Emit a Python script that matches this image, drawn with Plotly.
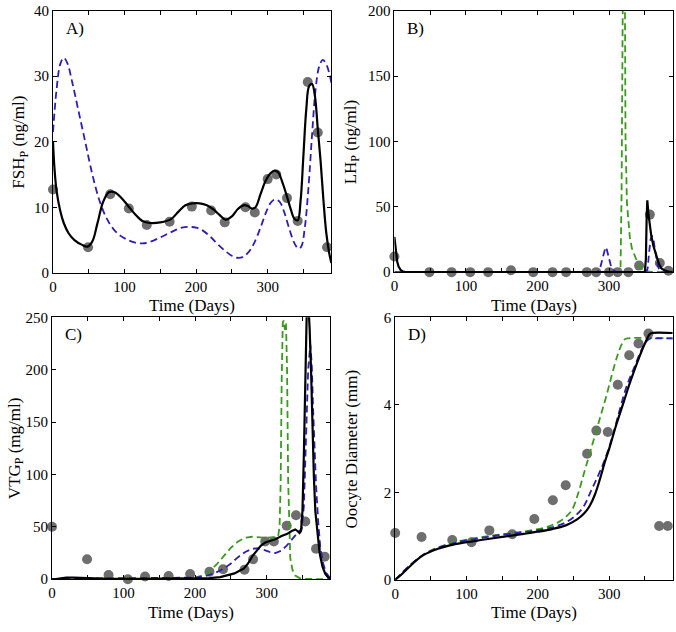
import plotly.graph_objects as go

# ---- A) FSH ----
fsh_dot_t = [0, 49, 80, 106, 131, 163, 194, 221, 240, 269, 282, 300, 312, 327, 342, 356, 370, 383]
fsh_dot = [12.7, 3.9, 12.0, 9.8, 7.3, 7.8, 10.1, 9.5, 7.7, 10.0, 9.2, 14.3, 15.0, 11.4, 7.9, 29.1, 21.4, 3.9]
fsh_black_t = [0, 2, 5, 10, 15, 22, 30, 40, 48, 55, 62, 70, 78, 86, 95, 105, 115, 125, 135, 150, 165, 175,
               185, 195, 205, 215, 225, 233, 241, 250, 258, 266, 272, 278, 283, 290, 297, 304, 310, 315, 320,
               326, 332, 337, 342, 346, 350, 354, 358, 362, 366, 370, 374, 378, 382, 386, 389]
fsh_black = [20, 16, 12.5, 9.5, 7.6, 6.0, 5.0, 4.3, 4.0, 4.8, 7.5, 10.8, 12.3, 12.3, 11.5, 10.2, 8.9, 7.9, 7.6,
             7.7, 8.2, 9.3, 10.3, 10.6, 10.6, 10.3, 9.6, 8.8, 8.1, 8.6, 9.7, 10.3, 10.2, 9.8, 10.0, 12.0, 14.0,
             15.2, 15.6, 15.3, 14.0, 12.0, 9.8, 8.3, 8.0, 11, 18, 25, 28.5, 28.8, 27, 22, 17, 11, 6, 3, 1.5]
fsh_blue_t = [0, 5, 10, 15, 20, 27, 35, 45, 55, 65, 75, 85, 95, 105, 115, 125, 135, 150, 165, 180, 190, 200,
              210, 220, 230, 240, 250, 258, 265, 272, 280, 290, 298, 305, 311, 317, 323, 330, 337, 343, 347,
              352, 357, 362, 367, 372, 377, 382, 386, 389]
fsh_blue = [21.5, 28, 31.8, 32.8, 32, 29, 25, 20, 15, 11, 8.3, 6.6, 5.6, 5.0, 4.6, 4.5, 4.7, 5.4, 6.2, 6.9, 7.0,
            6.9, 6.4, 5.5, 4.4, 3.4, 2.6, 2.3, 2.4, 3.0, 4.3, 6.9, 9.3, 10.8, 11.2, 10.8, 9.3, 6.8, 4.6, 3.7,
            4.0, 7.0, 13, 21, 28, 31.5, 32.5, 31.8, 30.5, 29]

# ---- B) LH ----
lh_dot_t = [0, 49, 80, 106, 131, 163, 194, 221, 240, 269, 282, 300, 312, 327, 342, 357, 371, 383]
lh_dot = [12, 0, 0, 0, 0, 1.5, 0, 0, 0, 0, 0, 0, 0, 0, 5, 44, 7, 1]
lh_black_t = [0, 1, 2, 4, 6, 9, 12, 16, 350, 351.5, 352.5, 353.5, 355, 357, 359, 362, 366, 370, 373, 378, 383, 389]
lh_black = [27, 21, 15, 8, 4, 1.5, 0.5, 0, 0, 10, 40, 55, 45, 35, 28, 20, 12, 6, 3, 1.2, 0.4, 0]
lh_blue_t = [0, 283, 287, 290, 293, 295, 297, 300, 303, 307, 310, 352, 354, 356, 358, 360, 362, 364, 366,
             368, 370, 373, 389]
lh_blue = [0, 0, 2, 8, 16, 19, 17, 10, 4, 1, 0, 0, 3, 15, 25, 28, 25, 18, 10, 5, 2, 0, 0]
lh_green_t = [0, 316, 317.5, 319, 320.5, 322, 323, 325, 327, 329, 332, 336, 340, 345, 350, 356, 389]
lh_green = [0, 0, 60, 220, 320, 240, 104, 53, 36, 27, 18, 12, 7, 3, 1.5, 0.3, 0]

# ---- C) VTG ----
vtg_dot_t = [0, 49, 79, 106, 130, 163, 193, 220, 239, 269, 281, 298, 310, 328, 341, 354, 369, 381]
vtg_dot = [50, 19, 4, 0, 2.5, 3, 5, 7, 9.5, 9, 19, 36, 36, 51, 61, 55, 29, 21.5]
vtg_black_t = [0, 5, 12, 20, 30, 40, 50, 60, 80, 120, 160, 200, 220, 235, 245, 255, 262, 268, 274, 280, 286,
               292, 298, 305, 312, 320, 328, 335, 340, 343, 346, 348, 350, 352, 354, 356, 358, 360, 362, 364,
               366, 368, 371, 374, 378, 382, 386, 389]
vtg_black = [-0.5, 0, 1, 1.5, 1.5, 1.2, 0.8, 0.5, 0.3, 0.2, 0.3, 0.6, 1, 2, 3.5, 5.5, 8, 10, 15, 22, 27, 32,
             35, 36.5, 38, 41, 43, 46, 47.5, 46, 44, 46, 65, 120, 200, 255, 265, 240, 200, 140, 97, 65, 44,
             25, 12, 5, 1.5, 1]
vtg_blue_t = [0, 40, 100, 150, 200, 215, 228, 240, 250, 260, 270, 280, 288, 296, 304, 312, 320, 328, 336, 344,
              349, 352, 355, 358, 361, 363, 365, 367, 369, 372, 375, 379, 383, 389]
vtg_blue = [0.3, 0.5, 0.5, 0.8, 1.5, 3, 6, 10, 15, 21, 26, 29, 29.5, 28, 26, 25, 27, 32, 39, 45, 48, 70, 135,
            200, 224, 205, 160, 120, 90, 55, 30, 15, 6, 1]
vtg_green_t = [0, 150, 200, 210, 220, 230, 240, 250, 260, 270, 280, 290, 300, 310, 316, 318, 319.5, 321, 322.5,
               324, 325.5, 327, 328.5, 330, 331.5, 333, 336, 340, 346, 355, 389]
vtg_green = [0, 0, 1.5, 3.5, 7.5, 14, 22, 30, 36, 39.5, 40.5, 40, 39.5, 40, 41, 50, 90, 190, 245, 247, 238,
             244, 200, 95, 40, 20, 9, 3.5, 1, 0.2, 0]

# ---- D) Oocyte diameter ----
ood_dot_t = [0, 37, 80, 107, 132, 164, 195, 221, 239, 269, 282, 298, 312, 328, 341, 355, 370, 382]
ood_dot = [1.07, 0.98, 0.91, 0.86, 1.13, 1.04, 1.39, 1.82, 2.16, 2.88, 3.41, 3.38, 4.46, 5.13, 5.40, 5.63,
           1.23, 1.23]
ood_black_t = [0, 10, 20, 30, 40, 50, 60, 70, 80, 100, 120, 150, 180, 200, 220, 240, 255, 265, 273, 280, 287,
               294, 300, 310, 320, 330, 340, 350, 357, 360, 389]
ood_black = [0, 0.14, 0.3, 0.45, 0.57, 0.65, 0.71, 0.76, 0.80, 0.86, 0.91, 0.98, 1.05, 1.10, 1.16, 1.25, 1.38,
             1.52, 1.7, 1.95, 2.3, 2.7, 3.0, 3.55, 4.05, 4.55, 5.0, 5.4, 5.62, 5.64, 5.64]
ood_blue_t = [0, 20, 40, 60, 80, 100, 130, 160, 190, 220, 240, 255, 265, 275, 285, 295, 305, 315, 325, 335, 345,
              352, 358, 362, 389]
ood_blue = [0, 0.32, 0.58, 0.73, 0.83, 0.9, 0.98, 1.05, 1.11, 1.2, 1.32, 1.5, 1.7, 2.05, 2.4, 2.8, 3.3, 3.9,
            4.45, 4.85, 5.25, 5.45, 5.52, 5.52, 5.52]
ood_green_t = [0, 20, 40, 60, 80, 100, 130, 160, 190, 215, 230, 240, 248, 256, 264, 272, 280, 288, 296, 304,
               312, 318, 322, 326, 389]
ood_green = [0, 0.32, 0.58, 0.74, 0.85, 0.92, 1.0, 1.06, 1.13, 1.22, 1.33, 1.45, 1.6, 1.95, 2.4, 2.85, 3.3,
             3.75, 4.2, 4.7, 5.15, 5.4, 5.5, 5.52, 5.52]

W, H = 676, 632
FONT = "Liberation Serif"
BLACK = "#000000"
BLUE = "#2E1FB4"
GREEN = "#3A9A1E"
GRAY = "#6E6E6E"


def px(x):
    return x / W


def py(y):
    return 1 - y / H


panels = [
    dict(ax="", xd=(49.3, 329.3), yd=(2.7, 271.7), yr=[0, 40], dt=10, lab="A)",
         title="FSH<sub>P</sub> (ng/ml)", tx=16,
         dots=(fsh_dot_t, fsh_dot), green=None, blue=(fsh_blue_t, fsh_blue), black=(fsh_black_t, fsh_black),
         spline=True),
    dict(ax="2", xd=(392.7, 672.7), yd=(2.7, 271.0), yr=[0, 200], dt=50, lab="B)",
         title="LH<sub>P</sub> (ng/ml)", tx=350,
         dots=(lh_dot_t, lh_dot), green=(lh_green_t, lh_green), blue=(lh_blue_t, lh_blue),
         black=(lh_black_t, lh_black), spline=False),
    dict(ax="3", xd=(48.3, 328.3), yd=(317.3, 586.0), yr=[0, 250], dt=50, lab="C)",
         title="VTG<sub>P</sub> (mg/ml)", tx=12,
         dots=(vtg_dot_t, vtg_dot), green=(vtg_green_t, vtg_green), blue=(vtg_blue_t, vtg_blue),
         black=(vtg_black_t, vtg_black), spline=False),
    dict(ax="4", xd=(393.5, 672.7), yd=(317.3, 586.7), yr=[0, 6], dt=2, lab="D)",
         title="Oocyte Diameter (mm)", tx=350,
         dots=(ood_dot_t, ood_dot), green=(ood_green_t, ood_green), blue=(ood_blue_t, ood_blue),
         black=(ood_black_t, ood_black), spline=True),
]

fig = go.Figure()
annotations = []
layout = {}

for p in panels:
    xa, ya = "x" + p["ax"], "y" + p["ax"]
    shape = "spline" if p["spline"] else "linear"
    fig.add_trace(go.Scatter(x=p["dots"][0], y=p["dots"][1], mode="markers", xaxis=xa, yaxis=ya,
                             marker=dict(color=GRAY, size=10, line=dict(width=0)), cliponaxis=False))
    if p["green"]:
        fig.add_trace(go.Scatter(x=p["green"][0], y=p["green"][1], mode="lines", xaxis=xa, yaxis=ya,
                                 line=dict(color=GREEN, width=1.8, dash="7px,4px", shape=shape)))
    fig.add_trace(go.Scatter(x=p["blue"][0], y=p["blue"][1], mode="lines", xaxis=xa, yaxis=ya,
                             line=dict(color=BLUE, width=1.8, dash="7px,4px", shape=shape)))
    fig.add_trace(go.Scatter(x=p["black"][0], y=p["black"][1], mode="lines", xaxis=xa, yaxis=ya,
                             line=dict(color=BLACK, width=2.2, shape=shape)))

    common = dict(showline=True, linecolor="black", linewidth=1, mirror="allticks", ticks="inside",
                  ticklen=4, tickcolor="black", showgrid=False, zeroline=False,
                  tickfont=dict(family=FONT, size=15, color="black"))
    layout["xaxis" + p["ax"]] = dict(common, domain=[px(p["xd"][0]), px(p["xd"][1])], range=[0, 389],
                                     anchor=ya, tick0=0, dtick=100,
                                     minor=dict(dtick=50, ticks="inside", ticklen=4, tickcolor="black"))
    layout["yaxis" + p["ax"]] = dict(common, domain=[py(p["yd"][1]), py(p["yd"][0])],
                                     range=p["yr"], anchor=xa, tick0=0, dtick=p["dt"])

    xc = (p["xd"][0] + p["xd"][1]) / 2
    yc = (p["yd"][0] + p["yd"][1]) / 2
    annotations.append(dict(text="Time (Days)", x=px(xc), y=py(p["yd"][1] + 34), xref="paper",
                            yref="paper", showarrow=False, font=dict(family=FONT, size=17, color="black"),
                            xanchor="center", yanchor="middle"))
    annotations.append(dict(text=p["title"], x=px(p["tx"]), y=py(yc), xref="paper", yref="paper",
                            showarrow=False, textangle=-90, font=dict(family=FONT, size=17, color="black"),
                            xanchor="center", yanchor="middle"))
    annotations.append(dict(text=p["lab"], x=px(p["xd"][0] + 11), y=py(p["yd"][0] + 18),
                            xref="paper", yref="paper", showarrow=False,
                            font=dict(family=FONT, size=17, color="black"),
                            xanchor="left", yanchor="middle"))

fig.update_layout(**layout)
fig.update_layout(width=W, height=H, margin=dict(l=0, r=0, t=0, b=0), showlegend=False,
                  plot_bgcolor="white", paper_bgcolor="white", annotations=annotations)

# drop the default 8px page margin so the figure sits at the window corner
fig.write_html("out.html", config={"displayModeBar": False},
               post_script="document.body.style.margin='0';document.body.style.overflow='hidden';")
